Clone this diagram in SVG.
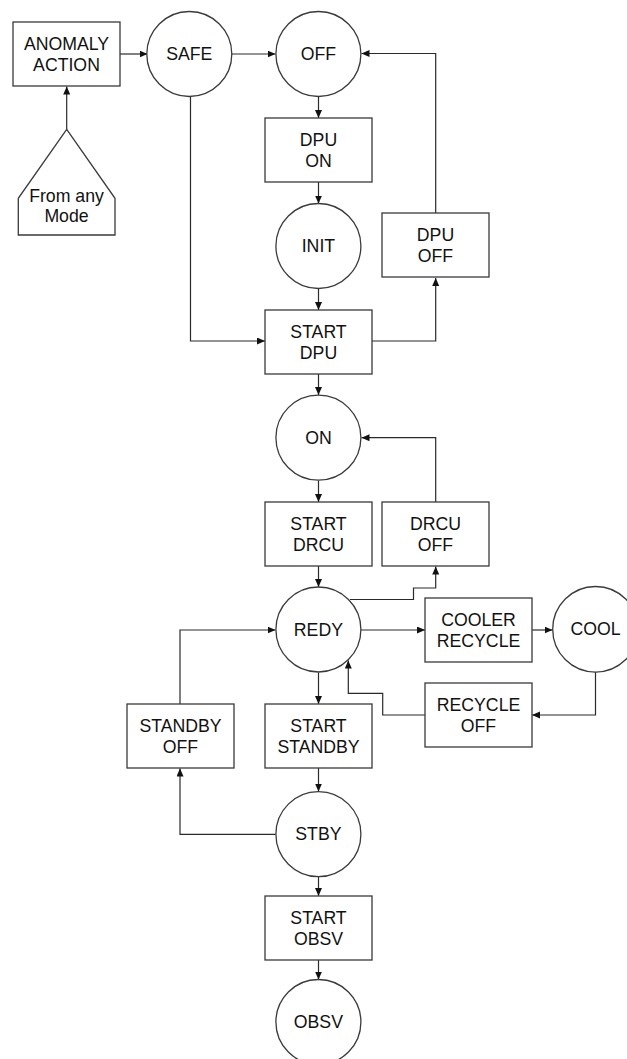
<svg xmlns="http://www.w3.org/2000/svg" width="627" height="1059" viewBox="0 0 627 1059">
<style>
.s{fill:#fff;stroke:#3a3a3a;stroke-width:1.3}
.t{font-family:"Liberation Sans",Arial,sans-serif;font-size:17.7px;fill:#111;text-anchor:middle}
.c{fill:none;stroke:#2a2a2a;stroke-width:1.2}
.a{marker-end:url(#ah)}
</style>
<defs>
<marker id="ah" markerUnits="userSpaceOnUse" markerWidth="9" markerHeight="8" refX="8" refY="3.5" orient="auto">
<path d="M0,0 L8,3.5 L0,7 z" fill="#111"/>
</marker>
</defs>
<rect width="627" height="1059" fill="#fff"/>
<g id="connectors">
<path class="c a" d="M120,54 H147.5"/>
<path class="c a" d="M231,54 H275.5"/>
<path class="c a" d="M66.7,129.5 V86.5"/>
<path class="c a" d="M318.5,97 V118"/>
<path class="c a" d="M318.5,182 V203.5"/>
<path class="c a" d="M318.5,289 V310"/>
<path class="c a" d="M318.5,374 V395"/>
<path class="c a" d="M318.5,480.5 V502"/>
<path class="c a" d="M318.5,566 V587"/>
<path class="c a" d="M318.5,672.5 V704"/>
<path class="c a" d="M318.5,768 V791.5"/>
<path class="c a" d="M318.5,877 V896"/>
<path class="c a" d="M318.5,960 V979.5"/>
<path class="c a" d="M190.5,97 V341 H265"/>
<path class="c a" d="M372,341 H435.7 V278"/>
<path class="c a" d="M435.7,213 V53.5 H361.5"/>
<path class="c a" d="M435.7,502 V437.7 H361.5"/>
<path class="c a" d="M350,599.5 H413.5 V588 H435.7 V566.5"/>
<path class="c a" d="M361,630 H425"/>
<path class="c a" d="M532,630 H552.5"/>
<path class="c a" d="M595.5,672 V715 H532"/>
<path class="c a" d="M425,715 H382.7 V693.3 H348.3 V660.5"/>
<path class="c a" d="M180,704 V630 H275.5"/>
<path class="c a" d="M275.5,834.3 H180 V768.5"/>
</g>
<g id="anomaly-action"><rect class="s" x="13" y="22" width="107" height="64"/><text class="t" x="66.5" y="50">ANOMALY</text><text class="t" x="66.5" y="71">ACTION</text></g>
<g id="from-any-mode"><path class="s" d="M66.7,129.3 L115,198.3 V235 H18.3 V198.3 Z"/><text class="t" x="66.5" y="201.5">From any</text><text class="t" x="66.5" y="221.7">Mode</text></g>
<g id="safe"><circle class="s" cx="189.3" cy="54" r="42.5"/><text class="t" x="189.3" y="60">SAFE</text></g>
<g id="off"><circle class="s" cx="318.4" cy="54" r="42.5"/><text class="t" x="318.4" y="60">OFF</text></g>
<g id="dpu-on"><rect class="s" x="265" y="118" width="107" height="64"/><text class="t" x="318.5" y="146">DPU</text><text class="t" x="318.5" y="167">ON</text></g>
<g id="init"><circle class="s" cx="318.4" cy="246" r="42.5"/><text class="t" x="318.4" y="252">INIT</text></g>
<g id="dpu-off"><rect class="s" x="382" y="213" width="107" height="64"/><text class="t" x="435.5" y="241">DPU</text><text class="t" x="435.5" y="262">OFF</text></g>
<g id="start-dpu"><rect class="s" x="265" y="310" width="107" height="64"/><text class="t" x="318.5" y="338">START</text><text class="t" x="318.5" y="359">DPU</text></g>
<g id="on"><circle class="s" cx="318.4" cy="437.7" r="42.5"/><text class="t" x="318.4" y="443.7">ON</text></g>
<g id="start-drcu"><rect class="s" x="265" y="502" width="107" height="64"/><text class="t" x="318.5" y="530">START</text><text class="t" x="318.5" y="551">DRCU</text></g>
<g id="drcu-off"><rect class="s" x="382" y="502" width="107" height="64"/><text class="t" x="435.5" y="530">DRCU</text><text class="t" x="435.5" y="551">OFF</text></g>
<g id="redy"><circle class="s" cx="318.4" cy="629.5" r="42.5"/><text class="t" x="318.4" y="635.5">REDY</text></g>
<g id="cooler-recycle"><rect class="s" x="425" y="598" width="107" height="64"/><text class="t" x="478.5" y="626">COOLER</text><text class="t" x="478.5" y="647">RECYCLE</text></g>
<g id="cool"><circle class="s" cx="595.5" cy="629.3" r="42.8"/><text class="t" x="595.5" y="635.3">COOL</text></g>
<g id="recycle-off"><rect class="s" x="425" y="683" width="107" height="64"/><text class="t" x="478.5" y="711">RECYCLE</text><text class="t" x="478.5" y="732">OFF</text></g>
<g id="standby-off"><rect class="s" x="127" y="704" width="107" height="64"/><text class="t" x="180.5" y="732">STANDBY</text><text class="t" x="180.5" y="753">OFF</text></g>
<g id="start-standby"><rect class="s" x="265" y="704" width="107" height="64"/><text class="t" x="318.5" y="732">START</text><text class="t" x="318.5" y="753">STANDBY</text></g>
<g id="stby"><circle class="s" cx="318.4" cy="834.2" r="42.5"/><text class="t" x="318.4" y="840.2">STBY</text></g>
<g id="start-obsv"><rect class="s" x="265" y="896" width="107" height="64"/><text class="t" x="318.5" y="924">START</text><text class="t" x="318.5" y="945">OBSV</text></g>
<g id="obsv"><circle class="s" cx="318.4" cy="1022" r="42.5"/><text class="t" x="318.4" y="1028">OBSV</text></g>
</svg>
